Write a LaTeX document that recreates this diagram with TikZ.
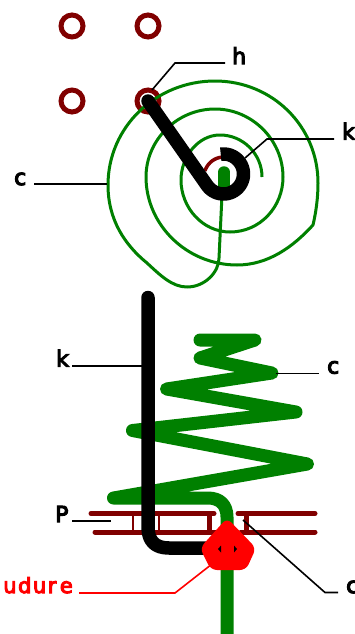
\documentclass[tikz,border=0pt]{standalone}
\usepackage{fontspec}
\setmainfont[FakeBold=5]{DejaVu Sans}
\definecolor{dred}{HTML}{800000}
\definecolor{dgreen}{HTML}{008000}
\tikzset{
  hole/.style={draw=dred,line width=5pt,circle,minimum size=22pt,inner sep=0pt},
  coil/.style={draw=dgreen,line width=3pt,line join=round},
  spring/.style={draw=dgreen,line width=13pt,line cap=round,line join=round},
  wire/.style={draw=black,line width=13.5pt,line cap=round,line join=round},
  plate/.style={draw=dred,line width=5pt,line cap=round},
  tie/.style={draw=dred,line width=2pt},
  post/.style={draw=dred,line width=5pt},
  leader/.style={draw=black,line width=1.6pt},
  redleader/.style={draw=red,line width=1.6pt},
  lab/.style={font=\fontsize{22}{22}\selectfont,inner sep=0pt,anchor=base west,text=black},
  redlab/.style={font=\fontsize{21}{21}\selectfont,inner sep=0pt,anchor=base east,text=red}
}
\begin{document}
\begin{tikzpicture}[x=1pt,y=-1pt]
\useasboundingbox (0,0) rectangle (355,634);
\clip (0,0) rectangle (355,634);
% holes
\node[hole] (h1) at (72,26) {};
\node[hole] (h2) at (148,26) {};
\node[hole] (h3) at (72,101) {};
\node[hole] (h4) at (148,101) {};
% spiral
\draw[coil] (262,177) .. controls (262,154) and (243,135) .. (220,135)
 .. controls (198,135) and (181,157) .. (181,180)
 .. controls (181,208) and (203,232) .. (230,232)
 .. controls (260,232) and (283,207) .. (283,177)
 .. controls (283,140) and (252,109) .. (215,109)
 .. controls (177,109) and (146,140) .. (146,177)
 .. controls (146,225) and (187,265) .. (237,265)
 .. controls (268,265) and (293,247) .. (313,225)
 .. controls (316,212) and (318,198) .. (318,183)
 .. controls (318,126) and (272,81) .. (215,81)
 .. controls (156,81) and (108,127) .. (108,185)
 .. controls (108,220) and (125,245) .. (147,263)
 .. controls (160,275) and (172,287) .. (187,287)
 .. controls (205,287) and (219,272) .. (219,258)
 -- (222,195);
\draw[draw=dred,line width=3.5pt] plot[smooth,domain=198:262,samples=10] ({224+20*cos(\x)},{177+20*sin(\x)});
\draw[draw=dgreen,line width=11.5pt,line cap=round] (224,172) -- (224,190);
% hook
\draw[wire,line cap=butt] (148,101) -- plot[smooth,domain=145:-98,samples=40] ({223.5+20*cos(\x)},{174+20*sin(\x)});
\fill[black] (148,101) circle[radius=6.75];
% plates
\draw[plate] (91,513.5) -- (214,513.5);
\draw[plate] (95,532) -- (216,532);
\draw[plate] (238,513.5) -- (315,513.5);
\draw[plate] (241,532) -- (315,532);
\draw[tie] (133,513.5) -- (133,532);
\draw[tie] (159,513.5) -- (159,532);
\draw[post] (209,513.5) -- (209,532);
\draw[post] (246,513.5) -- (246,532);
% spring
\draw[spring] (200,340) -- (255,340) -- (200,358) -- (272,373) -- (166.5,389) -- (296,412) -- (132.5,430.5) -- (307.5,464) -- (113.5,498) -- (208,498) .. controls (220,498) and (227,505) .. (227,517) -- (227,640);
% wire
\draw[wire] (148,297.5) -- (148,527) .. controls (148,541) and (155,548) .. (169,548) -- (224,548);
% solder
\fill[red,rounded corners=6pt] (227,518) -- (256,548) -- (246,570) -- (211,570) -- (200,548) -- cycle;
\fill[black] (218,549) -- (221,545.5) -- (221,552.5) -- cycle;
\fill[black] (237,549) -- (234,545.5) -- (234,552.5) -- cycle;
% labels
\node[lab] (lh) at (232,64) {h};
\node[lab] (lk) at (342,139.5) {k};
\node[lab] (lc) at (14,185) {c};
\node[lab] (lk2) at (56,366.5) {k};
\node[lab] (lc2) at (327,373.5) {c};
\node[lab] (lp) at (55,522) {P};
\node[lab] (ld) at (346,593) {c};
\node[redlab] (ls) at (73,593) {u\kern1.5pt d\kern1.5pt u\kern1.5pt r\kern3.5pt e};
% leaders
\coordinate (ah1) at (152,90); \coordinate (ah2) at (175,63); \coordinate (ah3) at (225,63);
\coordinate (ak1) at (245,158); \coordinate (ak2) at (267,139); \coordinate (ak3) at (334,139);
\coordinate (ac1) at (34,184); \coordinate (ac2) at (107,184);
\coordinate (bk1) at (72,366); \coordinate (bk2) at (142,366);
\coordinate (bc1) at (276,373.5); \coordinate (bc2) at (319,373.5);
\coordinate (ap1) at (72,521); \coordinate (ap2) at (111,521);
\coordinate (ad1) at (243,520); \coordinate (ad2) at (325,592.5); \coordinate (ad3) at (338,592.5);
\coordinate (as1) at (79,593); \coordinate (as2) at (175,593); \coordinate (as3) at (212,564);
\draw[leader] (ah1) -- (ah2) -- (ah3);
\draw[leader] (ak1) -- (ak2) -- (ak3);
\draw[leader] (ac1) -- (ac2);
\draw[leader] (bk1) -- (bk2);
\draw[leader] (bc1) -- (bc2);
\draw[leader] (ap1) -- (ap2);
\draw[leader] (ad1) -- (ad2) -- (ad3);
\draw[redleader] (as1) -- (as2) -- (as3);
\end{tikzpicture}
\end{document}
